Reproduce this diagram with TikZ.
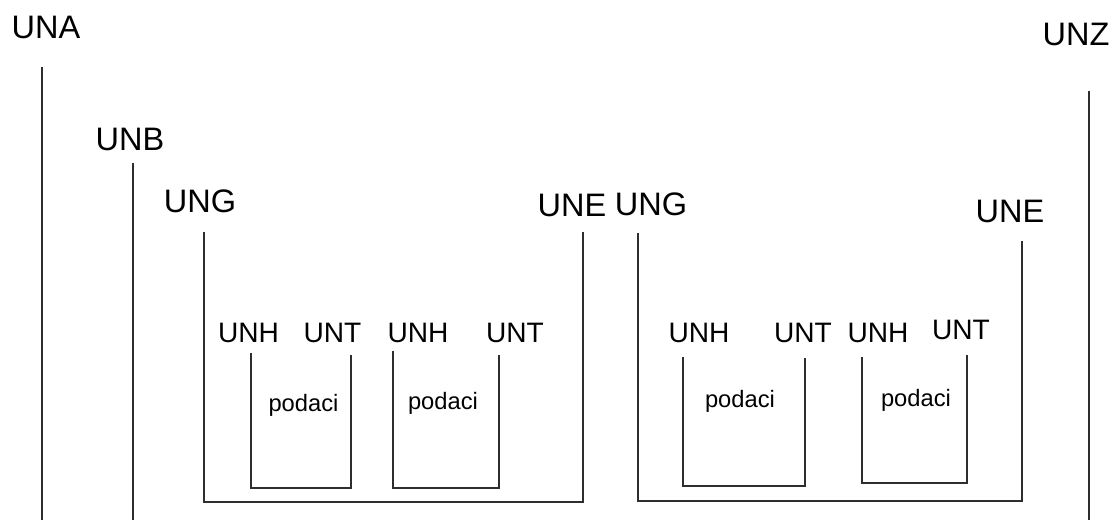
\documentclass[tikz,border=0pt]{standalone}
\usepackage{fontspec}
\setmainfont{Liberation Sans}
\usepackage{xcolor}
\usetikzlibrary{positioning}
\definecolor{segline}{HTML}{2E2E2E}

\begin{document}
\begin{tikzpicture}[
    x=0.02cm, y=-0.02cm,
    every node/.style={inner sep=0pt, text depth=0pt},
    seg/.style={draw=segline, line width=1.1pt},
    big/.style={font=\fontsize{18.5}{22}\selectfont},
    mid/.style={font=\fontsize{16}{19}\selectfont},
    data/.style={font=\fontsize{13.5}{16}\selectfont, text depth=}
]
\useasboundingbox (0,0) rectangle (1116,520);

% interchange level
\node[big] (una) at (46, 27.5) {UNA};
\node[big] (unz) at (1076, 34.5) {UNZ};
\coordinate (una-l) at (42, 67);
\coordinate (unz-l) at (1089, 91);
\draw[seg] (una-l) -- (una-l |- 0,520);
\draw[seg] (unz-l) -- (unz-l |- 0,520);

% message header
\node[big] (unb) at (130, 139.5) {UNB};
\coordinate (unb-l) at (133, 163);
\draw[seg] (unb-l) -- (unb-l |- 0,520);

% functional groups
\node[big] (ung1) at (200, 201) {UNG};
\node[big] (une1) at (572, 205) {UNE};
\node[big] (ung2) at (651, 204) {UNG};
\node[big] (une2) at (1010, 211) {UNE};
\coordinate (ung1-l) at (204, 232);
\coordinate (une1-l) at (583, 232);
\coordinate (ung2-l) at (638, 233);
\coordinate (une2-l) at (1022, 241);
\draw[seg] (ung1-l) -- (ung1-l |- 0,502) -| (une1-l);
\draw[seg] (ung2-l) -- (ung2-l |- 0,501) -| (une2-l);

% messages
\node[mid] (unh1) at (248.5, 333) {UNH};
\node[mid] (unt1) at (332.5, 333) {UNT};
\node[mid] (unh2) at (418, 333) {UNH};
\node[mid] (unt2) at (515, 333) {UNT};
\node[mid] (unh3) at (699, 333) {UNH};
\node[mid] (unt3) at (803, 332.5) {UNT};
\node[mid] (unh4) at (878, 333) {UNH};
\node[mid] (unt4) at (961, 330) {UNT};

\coordinate (unh1-l) at (251, 353);  \coordinate (unt1-l) at (351, 355);
\coordinate (unh2-l) at (393, 351);  \coordinate (unt2-l) at (499, 355);
\coordinate (unh3-l) at (683, 357);  \coordinate (unt3-l) at (805, 358);
\coordinate (unh4-l) at (862, 357);  \coordinate (unt4-l) at (967, 355);

\draw[seg] (unh1-l) -- (unh1-l |- 0,488) -| (unt1-l);
\draw[seg] (unh2-l) -- (unh2-l |- 0,488) -| (unt2-l);
\draw[seg] (unh3-l) -- (unh3-l |- 0,486) -| (unt3-l);
\draw[seg] (unh4-l) -- (unh4-l |- 0,483) -| (unt4-l);

\node[data] (pod1) at (303.5, 405) {podaci};
\node[data] (pod2) at (443, 403) {podaci};
\node[data] (pod3) at (740, 401) {podaci};
\node[data] (pod4) at (916, 400) {podaci};

\end{tikzpicture}
\end{document}
